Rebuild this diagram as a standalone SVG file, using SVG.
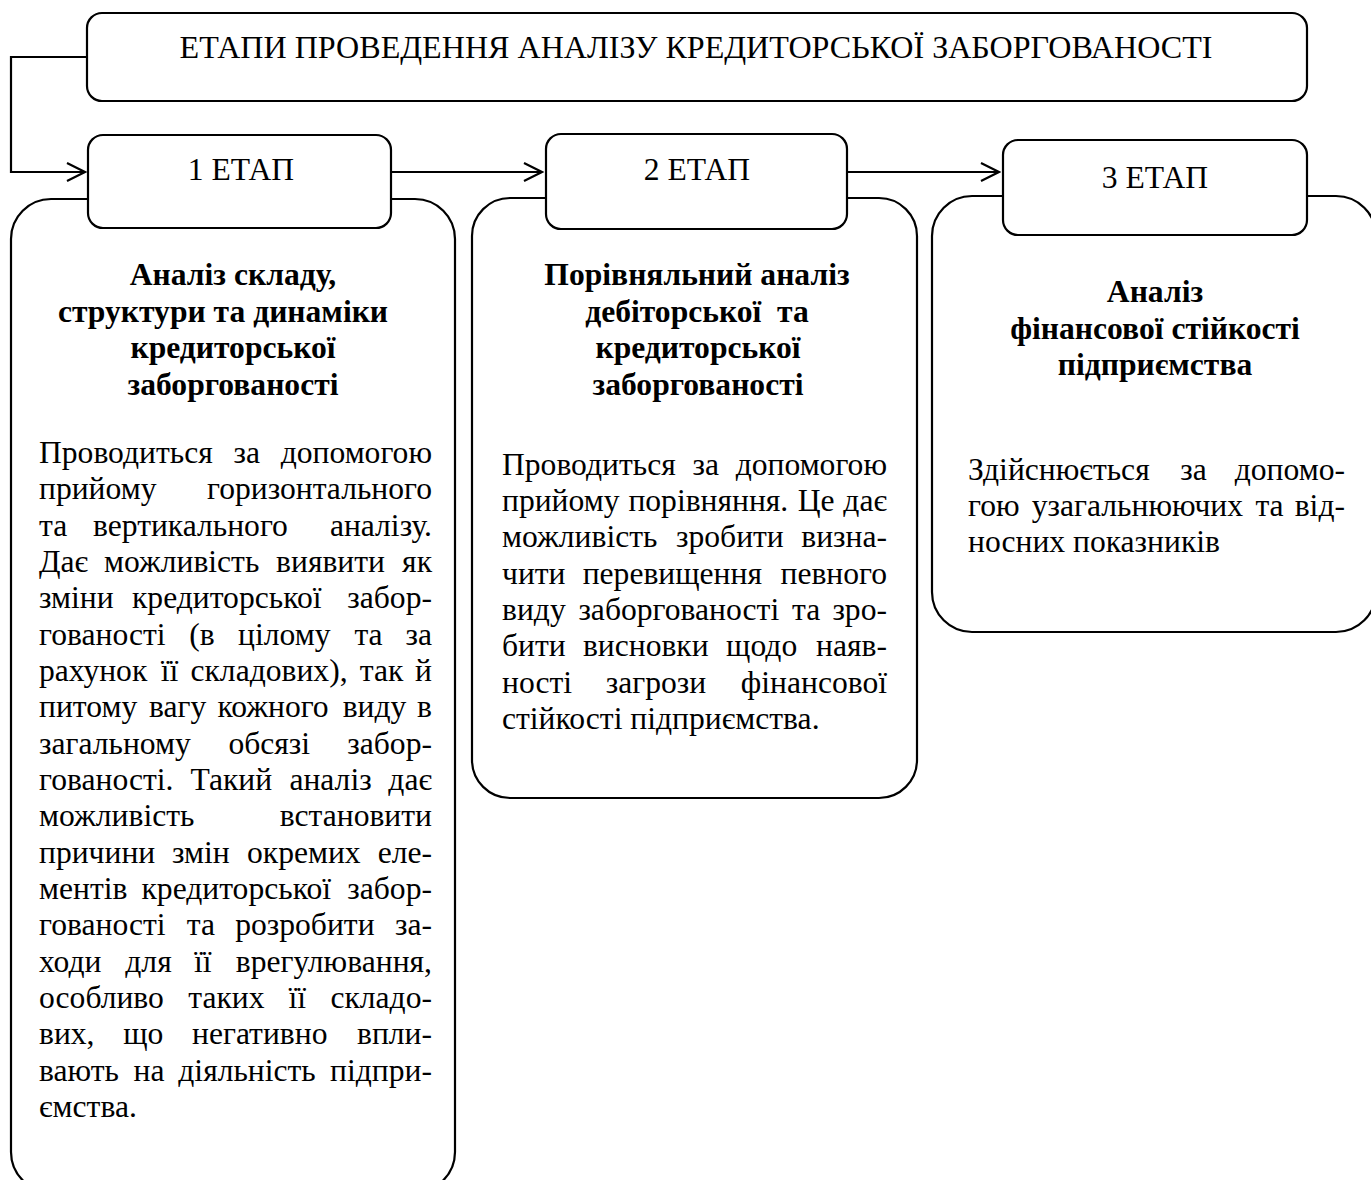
<svg xmlns="http://www.w3.org/2000/svg" width="1371" height="1180" viewBox="0 0 1371 1180">
<style>
.box{fill:#fff;stroke:#000;stroke-width:2.2}
.con{fill:none;stroke:#000;stroke-width:2.2}
.t{font-family:"Liberation Serif","Times New Roman",serif;font-size:31.6px;fill:#000}
.b{font-weight:bold}
.m{text-anchor:middle}
.e{text-anchor:end}
</style>
<defs>
<marker id="arr" markerUnits="userSpaceOnUse" viewBox="0 0 22 22" markerWidth="22" markerHeight="22" refX="20" refY="11" orient="auto">
<path d="M2,2 L20,11 L2,20" fill="none" stroke="#000" stroke-width="2.2"/>
</marker>
</defs>
<rect width="1371" height="1180" fill="#fff"/>

<g id="content1">
<rect class="box" x="11" y="199" width="444" height="993" rx="40"/>
<text class="t b m" x="233" y="285">Аналіз складу,</text>
<text class="t b m" x="223" y="321.5">структури та динаміки</text>
<text class="t b m" x="233" y="358">кредиторської</text>
<text class="t b m" x="233" y="394.5">заборгованості</text>
<text class="t" y="463"><tspan x="39">Проводиться</tspan><tspan x="233.6">за</tspan></text><text class="t e" x="432" y="463">допомогою</text>
<text class="t" x="39" y="499.3">прийому</text><text class="t e" x="432" y="499.3">горизонтального</text>
<text class="t" y="535.7"><tspan x="39">та</tspan><tspan x="93">вертикального</tspan></text><text class="t e" x="432" y="535.7">аналізу.</text>
<text class="t" y="572"><tspan x="39">Дає</tspan><tspan x="103.9">можливість</tspan><tspan x="276.1">виявити</tspan></text><text class="t e" x="432" y="572">як</text>
<text class="t" y="608.3"><tspan x="39">зміни</tspan><tspan x="132">кредиторської</tspan></text><text class="t e" x="432" y="608.3">забор-</text>
<text class="t" y="644.7"><tspan x="39">гованості</tspan><tspan x="189.3">(в</tspan><tspan x="238">цілому</tspan><tspan x="354.4">та</tspan></text><text class="t e" x="432" y="644.7">за</text>
<text class="t" y="681"><tspan x="39">рахунок</tspan><tspan x="160.7">її</tspan><tspan x="190.5">складових),</tspan><tspan x="359.8">так</tspan></text><text class="t e" x="432" y="681">й</text>
<text class="t" y="717.3"><tspan x="39">питому</tspan><tspan x="149">вагу</tspan><tspan x="217.4">кожного</tspan><tspan x="342.7">виду</tspan></text><text class="t e" x="432" y="717.3">в</text>
<text class="t" y="753.6"><tspan x="39">загальному</tspan><tspan x="228.4">обсязі</tspan></text><text class="t e" x="432" y="753.6">забор-</text>
<text class="t" y="790"><tspan x="39">гованості.</tspan><tspan x="190.4">Такий</tspan><tspan x="289.4">аналіз</tspan></text><text class="t e" x="432" y="790">дає</text>
<text class="t" x="39" y="826.3">можливість</text><text class="t e" x="432" y="826.3">встановити</text>
<text class="t" y="862.6"><tspan x="39">причини</tspan><tspan x="172">змін</tspan><tspan x="247">окремих</tspan></text><text class="t e" x="432" y="862.6">еле-</text>
<text class="t" y="899"><tspan x="39">ментів</tspan><tspan x="141.5">кредиторської</tspan></text><text class="t e" x="432" y="899">забор-</text>
<text class="t" y="935.3"><tspan x="39">гованості</tspan><tspan x="186.7">та</tspan><tspan x="235.2">розробити</tspan></text><text class="t e" x="432" y="935.3">за-</text>
<text class="t" y="971.6"><tspan x="39">ходи</tspan><tspan x="125.3">для</tspan><tspan x="194">її</tspan></text><text class="t e" x="432" y="971.6">врегулювання,</text>
<text class="t" y="1008"><tspan x="39">особливо</tspan><tspan x="188.2">таких</tspan><tspan x="288.5">її</tspan></text><text class="t e" x="432" y="1008">складо-</text>
<text class="t" y="1044.3"><tspan x="39">вих,</tspan><tspan x="123.2">що</tspan><tspan x="192">негативно</tspan></text><text class="t e" x="432" y="1044.3">впли-</text>
<text class="t" y="1080.6"><tspan x="39">вають</tspan><tspan x="133.6">на</tspan><tspan x="178.3">діяльність</tspan></text><text class="t e" x="432" y="1080.6">підпри-</text>
<text class="t" x="39" y="1117">ємства.</text>
</g>

<g id="content2">
<rect class="box" x="472" y="198" width="445" height="600" rx="38"/>
<text class="t b m" x="697" y="285">Порівняльний аналіз</text>
<text class="t b m" x="697" y="321.5" xml:space="preserve">дебіторської  та</text>
<text class="t b m" x="698" y="358">кредиторської</text>
<text class="t b m" x="698" y="394.5">заборгованості</text>
<text class="t" y="474.5"><tspan x="502">Проводиться</tspan><tspan x="692.6">за</tspan></text><text class="t e" x="887" y="474.5">допомогою</text>
<text class="t" y="510.8"><tspan x="502">прийому</tspan><tspan x="628.4">порівняння.</tspan><tspan x="797.8">Це</tspan></text><text class="t e" x="887" y="510.8">дає</text>
<text class="t" y="547.2"><tspan x="502">можливість</tspan><tspan x="676">зробити</tspan></text><text class="t e" x="887" y="547.2">визна-</text>
<text class="t" y="583.5"><tspan x="502">чити</tspan><tspan x="582.7">перевищення</tspan></text><text class="t e" x="887" y="583.5">певного</text>
<text class="t" y="619.8"><tspan x="502">виду</tspan><tspan x="578.4">заборгованості</tspan><tspan x="792">та</tspan></text><text class="t e" x="887" y="619.8">зро-</text>
<text class="t" y="656.2"><tspan x="502">бити</tspan><tspan x="582.9">висновки</tspan><tspan x="726.1">щодо</tspan></text><text class="t e" x="887" y="656.2">наяв-</text>
<text class="t" y="692.5"><tspan x="502">ності</tspan><tspan x="605.7">загрози</tspan></text><text class="t e" x="887" y="692.5">фінансової</text>
<text class="t" x="502" y="728.8">стійкості підприємства.</text>
</g>

<g id="content3">
<rect class="box" x="932" y="196" width="444" height="436" rx="40"/>
<text class="t b m" x="1155" y="302">Аналіз</text>
<text class="t b m" x="1155" y="338.5">фінансової стійкості</text>
<text class="t b m" x="1155" y="375">підприємства</text>
<text class="t" y="479.5"><tspan x="968">Здійснюється</tspan><tspan x="1180.3">за</tspan></text><text class="t e" x="1345" y="479.5">допомо-</text>
<text class="t" y="515.8"><tspan x="968">гою</tspan><tspan x="1031.8">узагальнюючих</tspan><tspan x="1255.4">та</tspan></text><text class="t e" x="1345" y="515.8">від-</text>
<text class="t" x="968" y="552.2">носних показників</text>
</g>

<g id="title">
<rect class="box" x="87" y="13" width="1220" height="88" rx="15"/>
<text class="t m" x="696" y="58" style="font-size:32.1px">ЕТАПИ ПРОВЕДЕННЯ АНАЛІЗУ КРЕДИТОРСЬКОЇ ЗАБОРГОВАНОСТІ</text>
</g>

<g id="stage1">
<rect class="box" x="88" y="135" width="303" height="93" rx="15"/>
<text class="t m" x="241" y="180">1 ЕТАП</text>
</g>
<g id="stage2">
<rect class="box" x="546" y="134" width="301" height="95" rx="15"/>
<text class="t m" x="697" y="180">2 ЕТАП</text>
</g>
<g id="stage3">
<rect class="box" x="1003" y="140" width="304" height="95" rx="15"/>
<text class="t m" x="1155" y="188">3 ЕТАП</text>
</g>

<g id="connectors">
<path class="con" d="M87,57 H11 V172 H85" marker-end="url(#arr)"/>
<path class="con" d="M391,172 H542" marker-end="url(#arr)"/>
<path class="con" d="M847,172 H999" marker-end="url(#arr)"/>
</g>
</svg>
